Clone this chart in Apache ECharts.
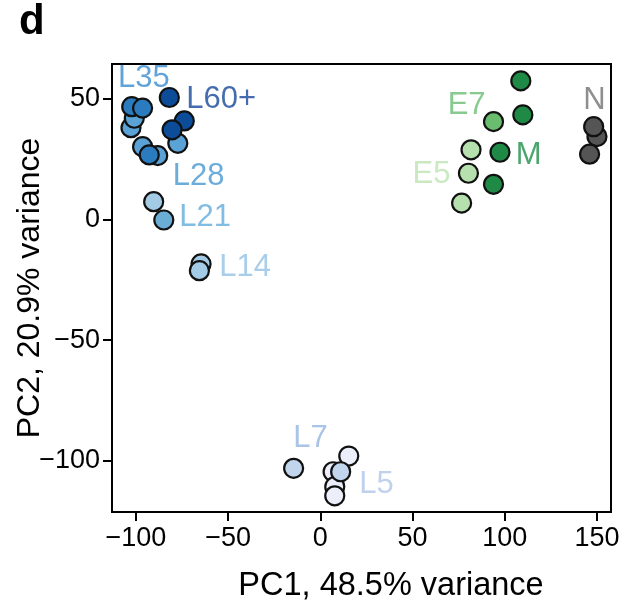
<!DOCTYPE html>
<html>
<head>
<meta charset="utf-8">
<script src="https://cdn.jsdelivr.net/npm/echarts@6/dist/echarts.min.js"></script>
<style>
html,body{margin:0;padding:0;background:#fff;}
#c{width:629px;height:613px;}
</style>
</head>
<body>
<div id="c"></div>
<script>
// ---- data ----
const groupNames = ['L5','L7','L14','L21','L28','L35','L60+','E5','E7','M','N'];
const groupColors = ['#eceef9','#c1d5ed','#a3cbe6','#6aaed6','#5ba3d6','#2b7bbf','#0c4c98','#b6e0ae','#6abd6f','#1e8a45','#555555'];
const L5x = [15.4, 6.9, 7.8, 7.8];       const L5y = [-98.1, -104.6, -110.8, -114.6];
const L7x = [-14.5, 11.0];               const L7y = [-103.2, -104.6];
const L14x = [-90.4, -64.7, -65.6];      const L14y = [7.4, -18.4, -21.2];
const L21x = [-84.9];                    const L21y = [-0.2];
const L28x = [-102.7, -100.9, -77.3, -96.4, -88.2]; const L28y = [38.1, 42.0, 31.6, 30.2, 26.5];
const L35x = [-102.3, -96.4, -92.8];     const L35y = [46.8, 46.2, 26.8];
const L60x = [-81.9, -73.8, -80.4];      const L60y = [50.6, 40.9, 37.2];
const E5x = [81.7, 80.3, 76.6];          const E5y = [28.9, 19.2, 6.8];
const E7x = [93.9];                      const E7y = [40.6];
const Mx = [108.7, 109.8, 97.4, 93.9];   const My = [57.5, 43.4, 27.9, 14.6];
const Nx = [150.0, 148.2, 146.0];        const Ny = [34.4, 38.5, 27.1];
const groupX = [L5x, L7x, L14x, L21x, L28x, L35x, L60x, E5x, E7x, Mx, Nx];
const groupY = [L5y, L7y, L14y, L21y, L28y, L35y, L60y, E5y, E7y, My, Ny];

const labelNames = ['L35','L60+','L28','L21','L14','L7','L5','E7','M','E5','N'];
const labelX = [-95.7, -53.8, -66.0, -62.5, -40.8, -5.4, 30.4, 79.3, 113.0, 60.3, 148.6];
const labelY = [58.3, 49.6, 17.8, 0.7, -19.7, -90.6, -109.7, 47.5, 26.4, 18.5, 49.2];
const labelColors = ['#3a8ccf','#17479a','#4797d2','#62abdc','#93c2e5','#93b5e0','#b0c6ea','#68bd73','#1f8f47','#bde3b4','#737373'];

const xTicks = [-100, -50, 0, 50, 100, 150];
const yTicks = [-100, -50, 0, 50];
const xTitle = 'PC1, 48.5% variance';
const yTitle = 'PC2, 20.9% variance';
const panelLetter = 'd';

// ---- chart ----
const FONT = 'Liberation Sans, Arial, Helvetica, sans-serif';
const fmt = v => String(v).replace('-', '\u2212');

const series = groupNames.map((g, i) => ({
  type: 'scatter',
  name: g,
  data: groupX[i].map((x, j) => [x, groupY[i][j]]),
  symbolSize: 19,
  itemStyle: { color: groupColors[i], borderColor: '#111', borderWidth: 2.2, opacity: 1 },
  emphasis: { disabled: true },
  z: 2 + i
}));
series.push({
  type: 'scatter',
  name: 'labels',
  silent: true,
  symbolSize: 0,
  z: 30,
  data: labelNames.map((n, i) => ({
    name: n,
    value: [labelX[i], labelY[i]],
    label: { color: labelColors[i] }
  })),
  label: {
    show: true,
    position: 'inside',
    formatter: p => p.name,
    fontSize: 31,
    fontFamily: FONT
  }
});

const chart = echarts.init(document.getElementById('c'), null, { renderer: 'canvas' });
chart.setOption({
  animation: false,
  backgroundColor: '#fff',
  grid: { left: 112, right: 18, top: 64, bottom: 101, show: true, borderColor: '#000', borderWidth: 2, backgroundColor: 'transparent' },
  xAxis: {
    type: 'value', min: -113, max: 157.6,
    splitLine: { show: false },
    axisLine: { show: true, onZero: false, lineStyle: { color: '#000', width: 2 } },
    axisTick: { show: true, customValues: xTicks, length: 9, lineStyle: { color: '#000', width: 2 } },
    axisLabel: { customValues: xTicks, formatter: fmt, fontSize: 27, color: '#000', margin: 13, fontFamily: FONT }
  },
  yAxis: {
    type: 'value', min: -121.3, max: 64.5,
    splitLine: { show: false },
    axisLine: { show: true, onZero: false, lineStyle: { color: '#000', width: 2 } },
    axisTick: { show: true, customValues: yTicks, length: 9, lineStyle: { color: '#000', width: 2 } },
    axisLabel: { customValues: yTicks, formatter: fmt, fontSize: 27, color: '#000', margin: 12, fontFamily: FONT }
  },
  graphic: [
    { type: 'text', x: 19, y: 1, style: { text: panelLetter, font: 'bold 42px ' + FONT, fill: '#000' } },
    { type: 'text', x: 391, y: 586, style: { text: xTitle, font: '32.5px ' + FONT, fill: '#000', textAlign: 'center', textVerticalAlign: 'middle' } },
    { type: 'text', x: 30, y: 288, rotation: Math.PI / 2, style: { text: yTitle, font: '32px ' + FONT, fill: '#000', textAlign: 'center', textVerticalAlign: 'middle' } }
  ],
  series: series
});
</script>
</body>
</html>
